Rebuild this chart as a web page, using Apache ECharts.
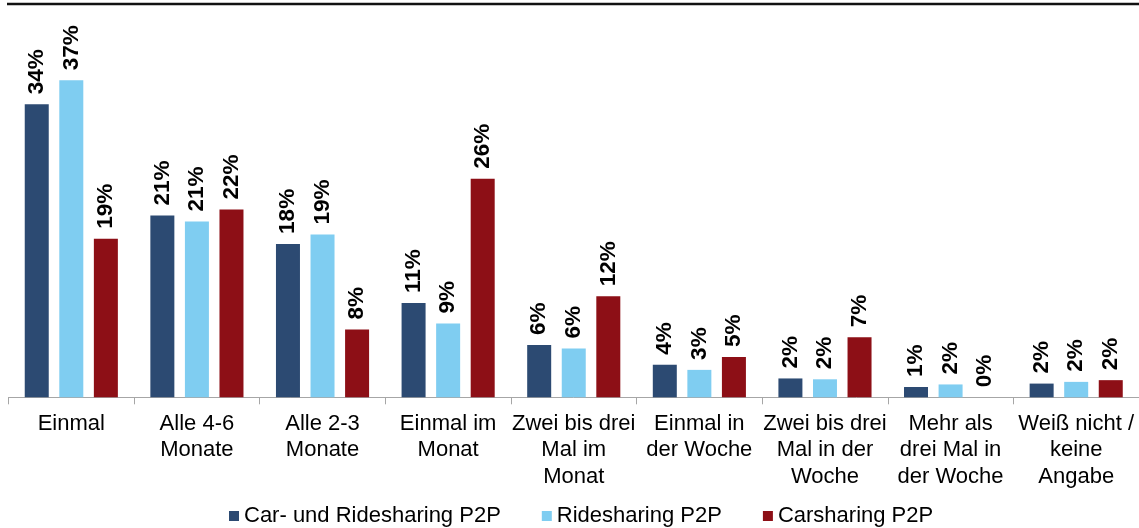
<!DOCTYPE html>
<html>
<head>
<meta charset="utf-8">
<title>Nutzungshäufigkeit P2P</title>
<script src="https://cdn.jsdelivr.net/npm/echarts@6/dist/echarts.min.js"></script>
<style>
    html, body { margin: 0; padding: 0; background: #fff; }
    #main { width: 1139px; height: 528px; }
</style>
</head>
<body>
<div id="main"></div>
<script type="text/javascript">
    // Kategorien (x-Achse)
    var categories = [
        'Einmal',
        'Alle 4-6\nMonate',
        'Alle 2-3\nMonate',
        'Einmal im\nMonat',
        'Zwei bis drei\nMal im\nMonat',
        'Einmal in\nder Woche',
        'Zwei bis drei\nMal in der\nWoche',
        'Mehr als\ndrei Mal in\nder Woche',
        'Weiß nicht /\nkeine\nAngabe'
    ];
    // Serien
    var seriesNames = ['Car- und Ridesharing P2P', 'Ridesharing P2P', 'Carsharing P2P'];
    var carRide = [34.2, 21.2, 17.9, 11.0, 6.1, 3.8, 2.2, 1.2, 1.6];
    var ride    = [37.0, 20.5, 19.0, 8.6, 5.7, 3.2, 2.1, 1.5, 1.8];
    var carShare = [18.5, 21.9, 7.9, 25.5, 11.8, 4.7, 7.0, 0, 2.0];
    var colors = ['#2c4a72', '#7fcdf1', '#8d0f16'];

    var font = '"Liberation Sans", Arial, sans-serif';

    function makeSeries(name, data, color) {
        return {
            name: name,
            type: 'bar',
            data: data,
            barWidth: 24,
            barGap: '44%',
            itemStyle: { color: color },
            label: {
                show: true,
                position: 'top',
                distance: 10,
                rotate: 90,
                align: 'left',
                verticalAlign: 'middle',
                fontFamily: font,
                fontSize: 22.5,
                fontWeight: 'bold',
                color: '#000',
                formatter: function (p) { return Math.round(p.value) + '%'; }
            }
        };
    }

    var myChart = echarts.init(document.getElementById('main'));
    myChart.setOption({
        animation: false,
        backgroundColor: '#fff',
        grid: { left: 8.5, width: 1134, top: 54.5, bottom: 130.7, containLabel: false },
        // schwarze Linie oben
        graphic: [{
            type: 'line',
            shape: { x1: 7, y1: 4, x2: 1139, y2: 4 },
            style: { stroke: '#111', lineWidth: 2.5 }
        }],
        legend: {
            data: seriesNames,
            left: 224,
            top: 500,
            itemWidth: 10,
            itemHeight: 10,
            itemGap: 41,
            icon: 'rect',
            textStyle: { fontFamily: font, fontSize: 22, color: '#000' }
        },
        xAxis: {
            type: 'category',
            data: categories,
            axisLine: { lineStyle: { color: '#a6a6a6', width: 1 } },
            axisTick: { show: true, length: 7, lineStyle: { color: '#a6a6a6' } },
            axisLabel: {
                interval: 0,
                margin: 13,
                fontFamily: font,
                fontSize: 22,
                lineHeight: 26.5,
                color: '#000'
            }
        },
        yAxis: {
            type: 'value',
            min: 0,
            max: 40,
            show: false,
            splitLine: { show: false }
        },
        series: [
            makeSeries(seriesNames[0], carRide, colors[0]),
            makeSeries(seriesNames[1], ride, colors[1]),
            makeSeries(seriesNames[2], carShare, colors[2])
        ]
    });
</script>
</body>
</html>
